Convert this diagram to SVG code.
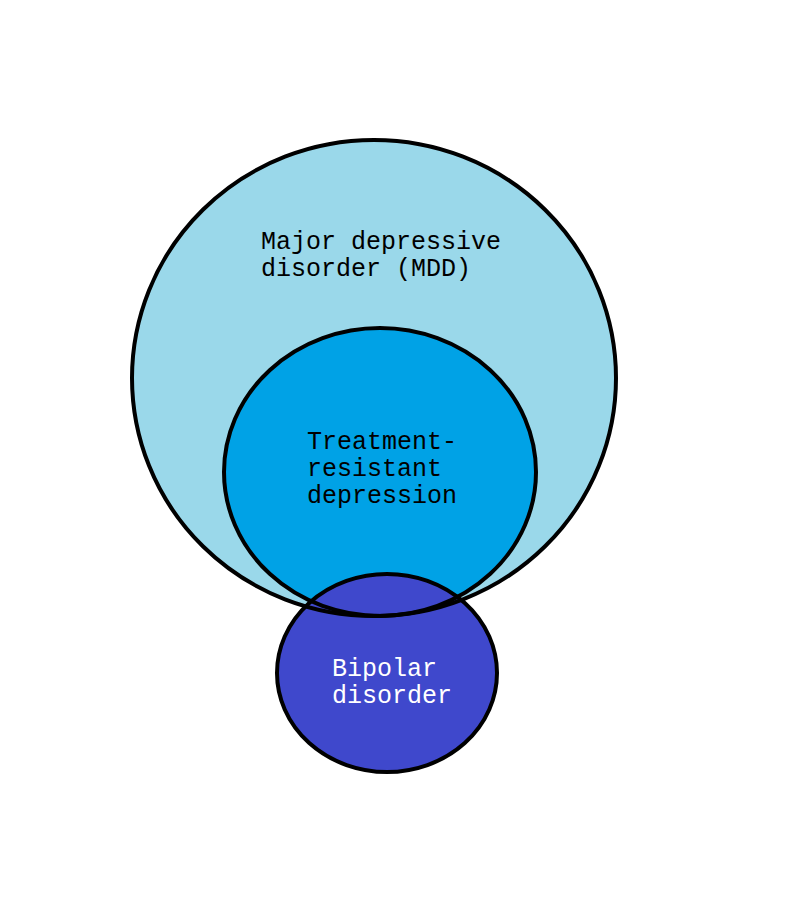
<svg xmlns="http://www.w3.org/2000/svg" width="805" height="923" viewBox="0 0 805 923">
<style>
.o{stroke:#000;stroke-width:4}
.t{font-family:"Liberation Mono","DejaVu Sans Mono",monospace;font-size:25px;fill:#000}
.w{fill:#fff}
</style>
<rect width="805" height="923" fill="#fff"/>
<g id="mdd">
<ellipse cx="374" cy="378" rx="242" ry="238" fill="#9ad8ea"/>
</g>
<g id="trd">
<ellipse cx="380" cy="472" rx="156" ry="144" fill="#00a2e6"/>
</g>
<g id="bipolar">
<ellipse cx="387" cy="673" rx="110" ry="99" fill="#3f48cc"/>
</g>
<g id="outlines" fill="none">
<ellipse class="o" cx="374" cy="378" rx="242" ry="238"/>
<ellipse class="o" cx="380" cy="472" rx="156" ry="144"/>
<ellipse class="o" cx="387" cy="673" rx="110" ry="99"/>
</g>
<g id="labels">
<text class="t" x="261" y="249">Major depressive</text>
<text class="t" x="261" y="276">disorder (MDD)</text>
<text class="t" x="307" y="449">Treatment-</text>
<text class="t" x="307" y="476">resistant</text>
<text class="t" x="307" y="503">depression</text>
<text class="t w" x="332" y="676">Bipolar</text>
<text class="t w" x="332" y="703">disorder</text>
</g>
</svg>
